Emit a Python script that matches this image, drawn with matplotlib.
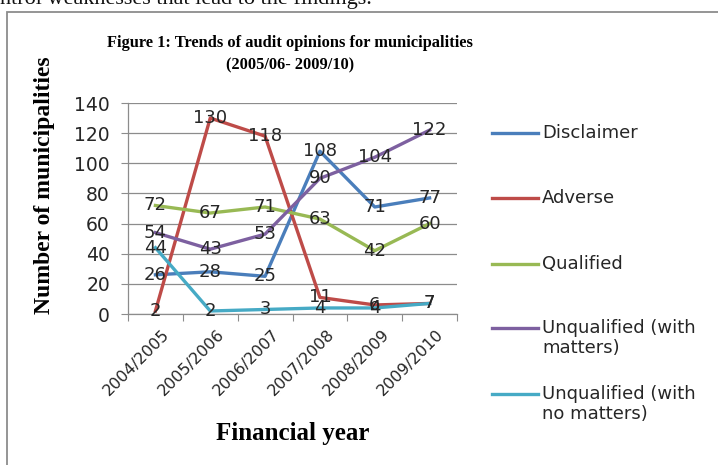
import matplotlib
matplotlib.use("Agg")
import matplotlib.pyplot as plt
from matplotlib.lines import Line2D
from matplotlib.patches import Rectangle
import matplotlib.transforms as mtransforms

years = ["2004/2005", "2005/2006", "2006/2007", "2007/2008", "2008/2009", "2009/2010"]
disclaimer = [26, 28, 25, 108, 71, 77]
adverse = [2, 130, 118, 11, 6, 7]
qualified = [72, 67, 71, 63, 42, 60]
unq_matters = [54, 43, 53, 90, 104, 122]
unq_no_matters = [44, 2, 3, 4, 4, 7]
series_names = ["Disclaimer", "Adverse", "Qualified", "Unqualified (with\nmatters)",
                "Unqualified (with\nno matters)"]
series = [disclaimer, adverse, qualified, unq_matters, unq_no_matters]
colors = ["#4A7EBB", "#BE4B48", "#98B954", "#7D60A0", "#46AAC5"]
yticks = [0, 20, 40, 60, 80, 100, 120, 140]

W, H = 718, 465
fig = plt.figure(figsize=(W / 100, H / 100), dpi=100)
sans = "DejaVu Sans"
serif = "Liberation Serif"
txtc = "#262626"

# page text cut off at top
fig.text(0 / W, 1 - 4 / H, "ntrol weaknesses that lead to the findings.", family=serif,
         fontsize=16, ha="left", va="baseline", color="#111111")
# frame box
fig.patches.append(Rectangle((7 / W, -0.1), 2.0, (1 - 12 / H) + 0.1, transform=fig.transFigure,
                             fill=False, edgecolor="#8c8c8c", lw=1.3))

ax = fig.add_axes([128 / W, 1 - 314 / H, (457 - 128) / W, (314 - 103) / H])
x = list(range(len(years)))
for vals, c in zip(series, colors):
    ax.plot(x, vals, color=c, lw=2.4, solid_joinstyle="round", zorder=3)
for vals in series:
    for xi, v in zip(x, vals):
        ax.text(xi, v, str(v), ha="center", va="center", family=sans, fontsize=13,
                color=txtc, zorder=4)

ax.set_xlim(-0.5, len(years) - 0.5)
ax.set_ylim(0, 140)
ax.set_yticks(yticks)
ax.set_yticklabels([str(t) for t in yticks], family=sans, fontsize=13.5, color=txtc)
ax.yaxis.grid(True, color="#8c8c8c", lw=0.9)
ax.set_axisbelow(True)
for s in ["top", "right"]:
    ax.spines[s].set_visible(False)
for s in ["left", "bottom"]:
    ax.spines[s].set_color("#8c8c8c")
    ax.spines[s].set_linewidth(0.9)
ax.tick_params(axis="y", length=5, color="#8c8c8c", pad=8)
ax.set_xticks([i - 0.5 for i in range(len(years) + 1)], minor=False)
ax.set_xticklabels([""] * (len(years) + 1))
ax.tick_params(axis="x", which="major", length=5, color="#8c8c8c")
ax.set_xticks(x, minor=True)
ax.set_xticklabels(years, minor=True, rotation=45, ha="right", va="center",
                   rotation_mode="anchor", family=sans, fontsize=11.5, color=txtc)
ax.tick_params(axis="x", which="minor", length=0, pad=13)
off = mtransforms.ScaledTranslation(12 / 100, 0, fig.dpi_scale_trans)
for lab in ax.get_xticklabels(minor=True):
    lab.set_transform(lab.get_transform() + off)

ax.set_ylabel("Number of municipalities", family=serif, fontweight="bold", fontsize=17)
ax.yaxis.set_label_coords((45 - 128) / 329, (314 - 185) / 211)
ax.yaxis.label.set_va("center")
ax.set_xlabel("Financial year", family=serif, fontweight="bold", fontsize=18)
ax.xaxis.set_label_coords(0.5, (314 - 433) / 211)
ax.xaxis.label.set_va("center")

fig.text(290 / W, 1 - 54 / H, "Figure 1: Trends of audit opinions for municipalities\n(2005/06- 2009/10)",
         family=serif, fontweight="bold", fontsize=11.8, ha="center", va="center",
         linespacing=1.5)

# legend (placed like the reference, equal spacing between entries)
first_line_y = [133, 198, 264, 328, 394]
line_h = 20
for name, c, yf in zip(series_names, colors, first_line_y):
    nlines = name.count("\n") + 1
    yc = yf + (nlines - 1) * line_h / 2
    fig.add_artist(Line2D([492 / W, 538 / W], [1 - yf / H, 1 - yf / H], color=c, lw=2.4,
                          transform=fig.transFigure))
    fig.text(542 / W, 1 - yc / H, name, family=sans, fontsize=13, color=txtc,
             ha="left", va="center", linespacing=1.1)

fig.savefig("out.png", dpi=100)
